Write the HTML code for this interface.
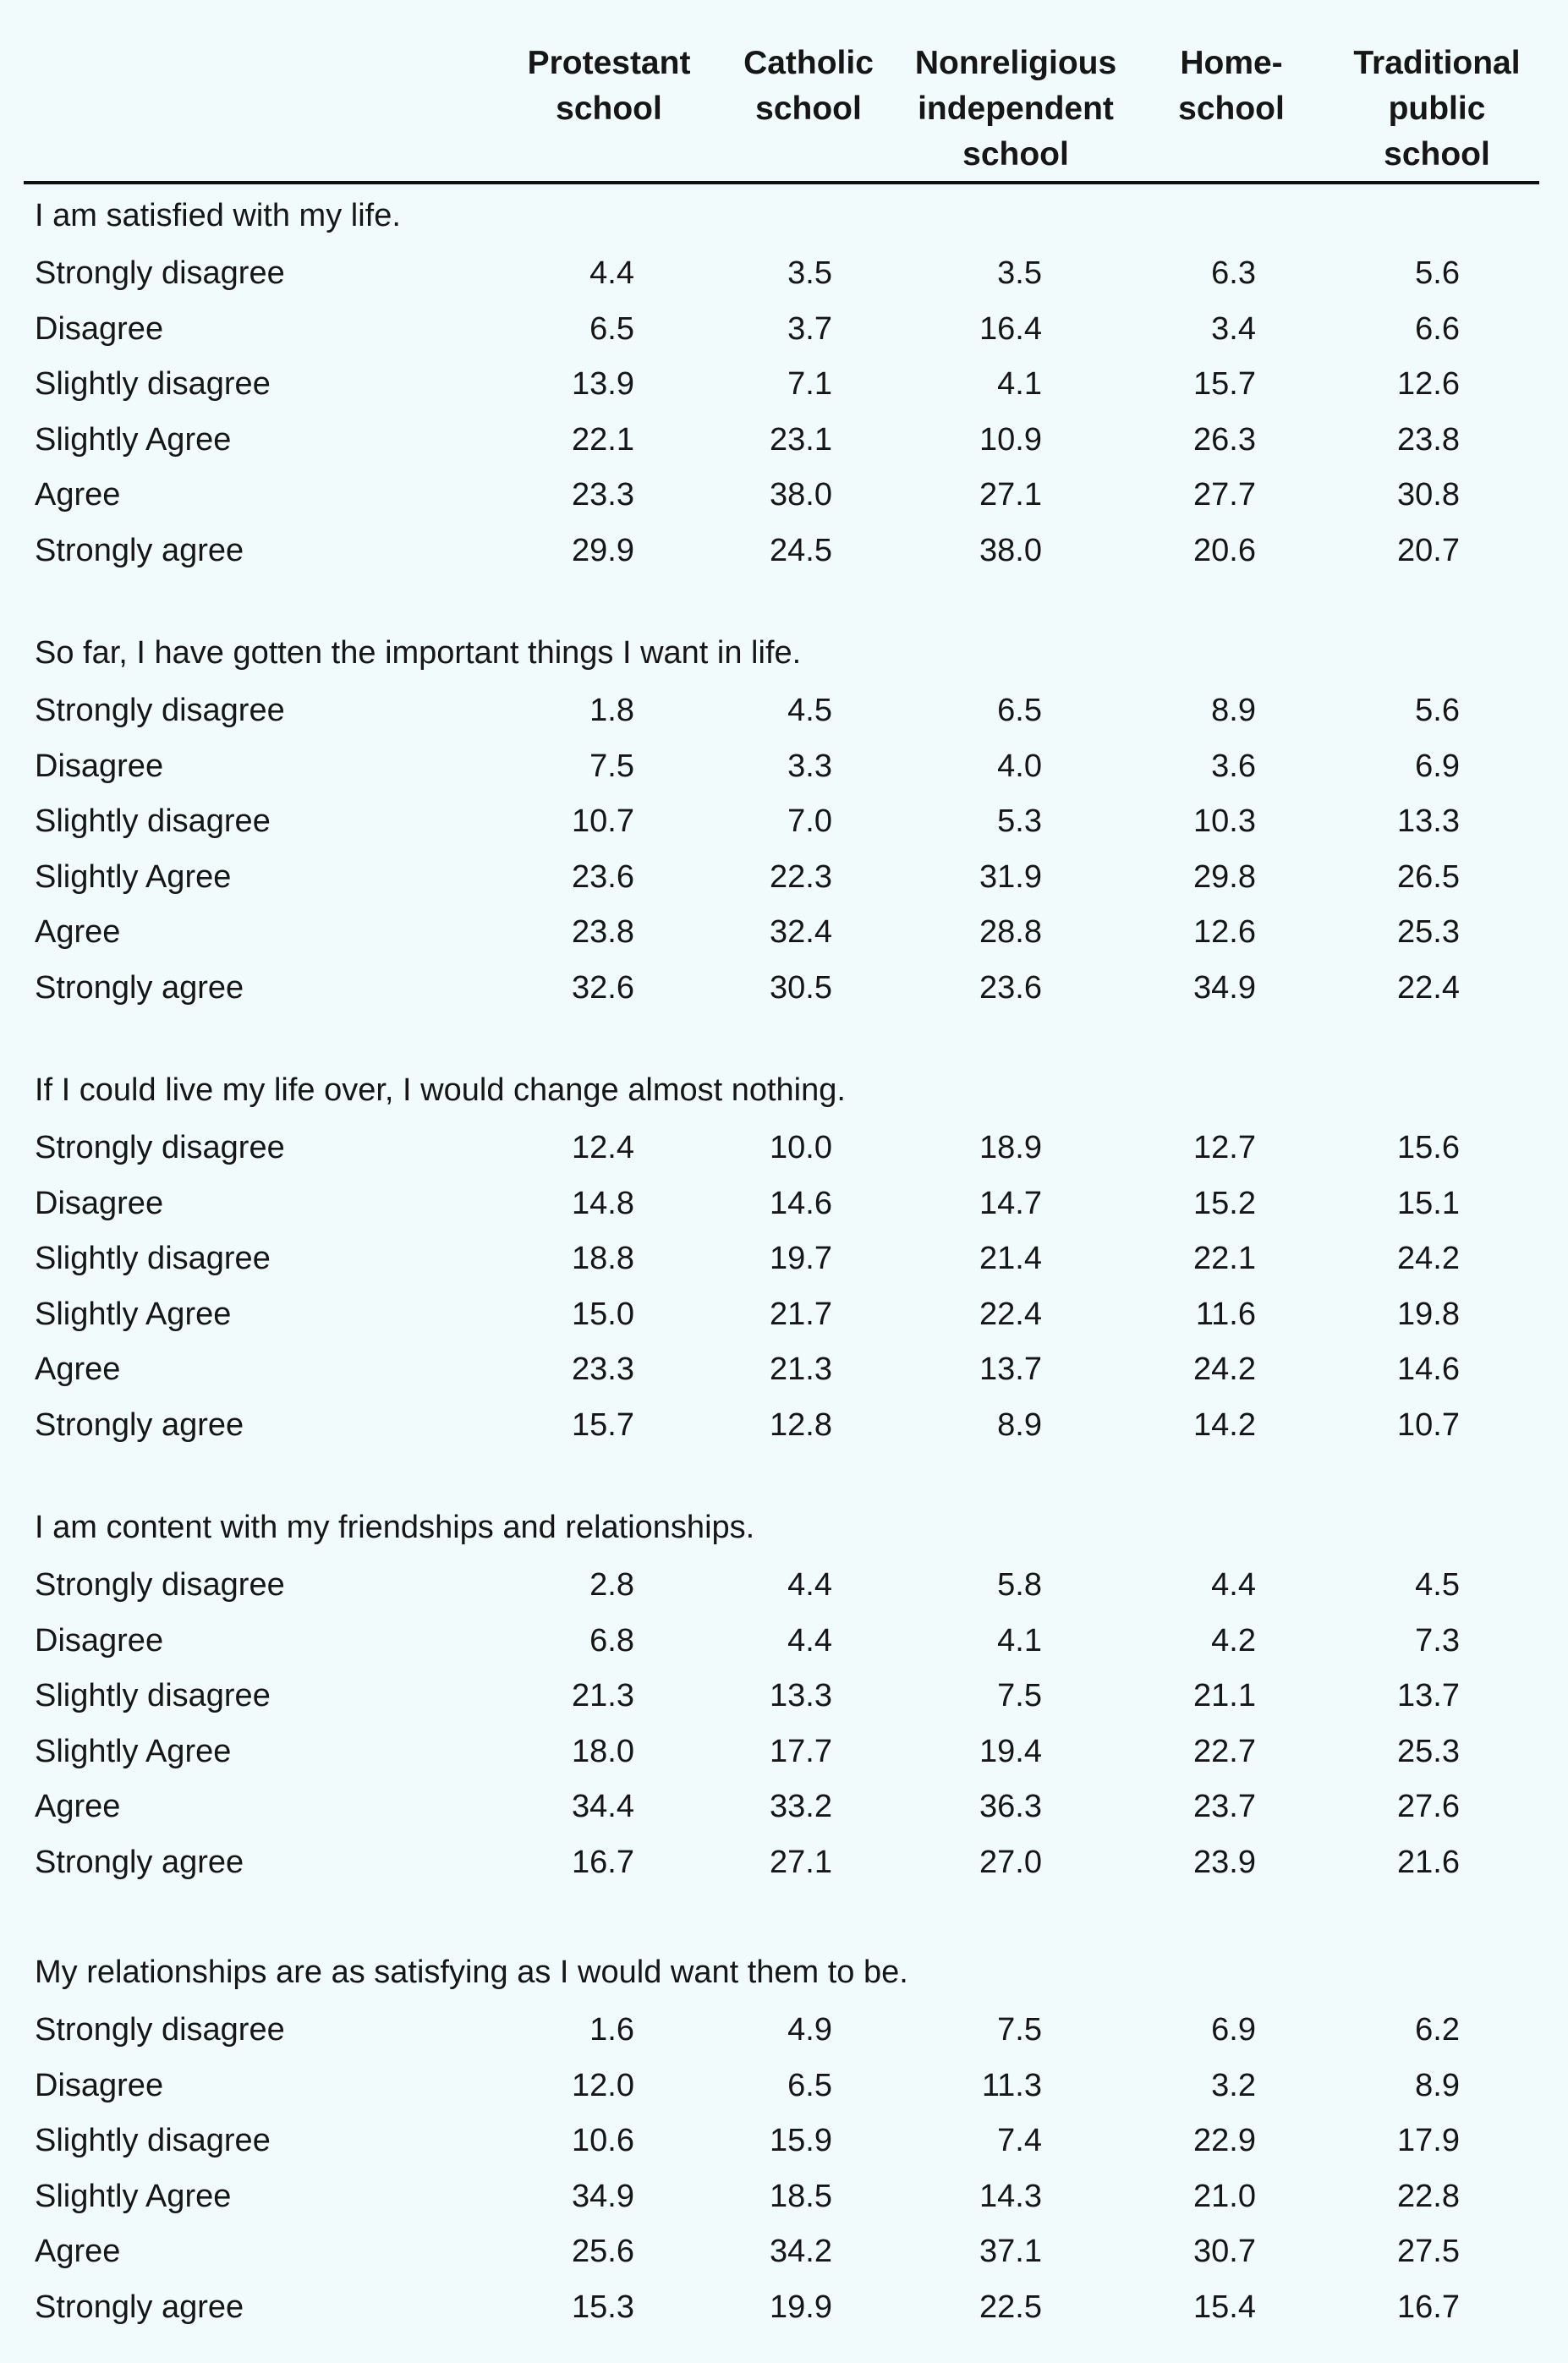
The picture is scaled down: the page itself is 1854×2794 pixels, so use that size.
<!DOCTYPE html>
<html><head><meta charset="utf-8"><style>
body{margin:0;background:#f2fbfb;}
#p{position:relative;width:1854px;height:2794px;background:#f2fbfb;color:#161616;font-family:"Liberation Sans Narrow","Liberation Sans",sans-serif;font-size:38px;overflow:hidden}
.r{position:absolute;left:0;width:1854px;height:50px;line-height:50px}
.r span{position:absolute;white-space:nowrap}
.l{left:41px}
.a{right:1104px}.b{right:870px}.c{right:622px}.d{right:369px}.e{right:128px}
.h{position:absolute;font-weight:bold;font-size:39px;line-height:54px;text-align:center;width:300px}
#line{position:absolute;left:28px;top:214px;width:1792px;height:4px;background:#111}
</style></head><body><div id="p">
<div class="h" style="left:570px;top:48px">Protestant<br>school</div>
<div class="h" style="left:806px;top:48px">Catholic<br>school</div>
<div class="h" style="left:1051px;top:48px">Nonreligious<br>independent<br>school</div>
<div class="h" style="left:1306px;top:48px">Home-<br>school</div>
<div class="h" style="left:1549px;top:48px">Traditional<br>public<br>school</div>
<div id="line"></div>

<div class="r" style="top:230px"><span class="l">I am satisfied with my life.</span></div>
<div class="r" style="top:298px"><span class="l">Strongly disagree</span><span class="a">4.4</span><span class="b">3.5</span><span class="c">3.5</span><span class="d">6.3</span><span class="e">5.6</span></div>
<div class="r" style="top:364px"><span class="l">Disagree</span><span class="a">6.5</span><span class="b">3.7</span><span class="c">16.4</span><span class="d">3.4</span><span class="e">6.6</span></div>
<div class="r" style="top:429px"><span class="l">Slightly disagree</span><span class="a">13.9</span><span class="b">7.1</span><span class="c">4.1</span><span class="d">15.7</span><span class="e">12.6</span></div>
<div class="r" style="top:495px"><span class="l">Slightly Agree</span><span class="a">22.1</span><span class="b">23.1</span><span class="c">10.9</span><span class="d">26.3</span><span class="e">23.8</span></div>
<div class="r" style="top:560px"><span class="l">Agree</span><span class="a">23.3</span><span class="b">38.0</span><span class="c">27.1</span><span class="d">27.7</span><span class="e">30.8</span></div>
<div class="r" style="top:626px"><span class="l">Strongly agree</span><span class="a">29.9</span><span class="b">24.5</span><span class="c">38.0</span><span class="d">20.6</span><span class="e">20.7</span></div>

<div class="r" style="top:747px"><span class="l">So far, I have gotten the important things I want in life.</span></div>
<div class="r" style="top:815px"><span class="l">Strongly disagree</span><span class="a">1.8</span><span class="b">4.5</span><span class="c">6.5</span><span class="d">8.9</span><span class="e">5.6</span></div>
<div class="r" style="top:881px"><span class="l">Disagree</span><span class="a">7.5</span><span class="b">3.3</span><span class="c">4.0</span><span class="d">3.6</span><span class="e">6.9</span></div>
<div class="r" style="top:946px"><span class="l">Slightly disagree</span><span class="a">10.7</span><span class="b">7.0</span><span class="c">5.3</span><span class="d">10.3</span><span class="e">13.3</span></div>
<div class="r" style="top:1012px"><span class="l">Slightly Agree</span><span class="a">23.6</span><span class="b">22.3</span><span class="c">31.9</span><span class="d">29.8</span><span class="e">26.5</span></div>
<div class="r" style="top:1077px"><span class="l">Agree</span><span class="a">23.8</span><span class="b">32.4</span><span class="c">28.8</span><span class="d">12.6</span><span class="e">25.3</span></div>
<div class="r" style="top:1143px"><span class="l">Strongly agree</span><span class="a">32.6</span><span class="b">30.5</span><span class="c">23.6</span><span class="d">34.9</span><span class="e">22.4</span></div>

<div class="r" style="top:1264px"><span class="l">If I could live my life over, I would change almost nothing.</span></div>
<div class="r" style="top:1332px"><span class="l">Strongly disagree</span><span class="a">12.4</span><span class="b">10.0</span><span class="c">18.9</span><span class="d">12.7</span><span class="e">15.6</span></div>
<div class="r" style="top:1398px"><span class="l">Disagree</span><span class="a">14.8</span><span class="b">14.6</span><span class="c">14.7</span><span class="d">15.2</span><span class="e">15.1</span></div>
<div class="r" style="top:1463px"><span class="l">Slightly disagree</span><span class="a">18.8</span><span class="b">19.7</span><span class="c">21.4</span><span class="d">22.1</span><span class="e">24.2</span></div>
<div class="r" style="top:1529px"><span class="l">Slightly Agree</span><span class="a">15.0</span><span class="b">21.7</span><span class="c">22.4</span><span class="d">11.6</span><span class="e">19.8</span></div>
<div class="r" style="top:1594px"><span class="l">Agree</span><span class="a">23.3</span><span class="b">21.3</span><span class="c">13.7</span><span class="d">24.2</span><span class="e">14.6</span></div>
<div class="r" style="top:1660px"><span class="l">Strongly agree</span><span class="a">15.7</span><span class="b">12.8</span><span class="c">8.9</span><span class="d">14.2</span><span class="e">10.7</span></div>

<div class="r" style="top:1781px"><span class="l">I am content with my friendships and relationships.</span></div>
<div class="r" style="top:1849px"><span class="l">Strongly disagree</span><span class="a">2.8</span><span class="b">4.4</span><span class="c">5.8</span><span class="d">4.4</span><span class="e">4.5</span></div>
<div class="r" style="top:1915px"><span class="l">Disagree</span><span class="a">6.8</span><span class="b">4.4</span><span class="c">4.1</span><span class="d">4.2</span><span class="e">7.3</span></div>
<div class="r" style="top:1980px"><span class="l">Slightly disagree</span><span class="a">21.3</span><span class="b">13.3</span><span class="c">7.5</span><span class="d">21.1</span><span class="e">13.7</span></div>
<div class="r" style="top:2046px"><span class="l">Slightly Agree</span><span class="a">18.0</span><span class="b">17.7</span><span class="c">19.4</span><span class="d">22.7</span><span class="e">25.3</span></div>
<div class="r" style="top:2111px"><span class="l">Agree</span><span class="a">34.4</span><span class="b">33.2</span><span class="c">36.3</span><span class="d">23.7</span><span class="e">27.6</span></div>
<div class="r" style="top:2177px"><span class="l">Strongly agree</span><span class="a">16.7</span><span class="b">27.1</span><span class="c">27.0</span><span class="d">23.9</span><span class="e">21.6</span></div>

<div class="r" style="top:2307px"><span class="l">My relationships are as satisfying as I would want them to be.</span></div>
<div class="r" style="top:2375px"><span class="l">Strongly disagree</span><span class="a">1.6</span><span class="b">4.9</span><span class="c">7.5</span><span class="d">6.9</span><span class="e">6.2</span></div>
<div class="r" style="top:2441px"><span class="l">Disagree</span><span class="a">12.0</span><span class="b">6.5</span><span class="c">11.3</span><span class="d">3.2</span><span class="e">8.9</span></div>
<div class="r" style="top:2506px"><span class="l">Slightly disagree</span><span class="a">10.6</span><span class="b">15.9</span><span class="c">7.4</span><span class="d">22.9</span><span class="e">17.9</span></div>
<div class="r" style="top:2572px"><span class="l">Slightly Agree</span><span class="a">34.9</span><span class="b">18.5</span><span class="c">14.3</span><span class="d">21.0</span><span class="e">22.8</span></div>
<div class="r" style="top:2637px"><span class="l">Agree</span><span class="a">25.6</span><span class="b">34.2</span><span class="c">37.1</span><span class="d">30.7</span><span class="e">27.5</span></div>
<div class="r" style="top:2703px"><span class="l">Strongly agree</span><span class="a">15.3</span><span class="b">19.9</span><span class="c">22.5</span><span class="d">15.4</span><span class="e">16.7</span></div>
</div></body></html>
